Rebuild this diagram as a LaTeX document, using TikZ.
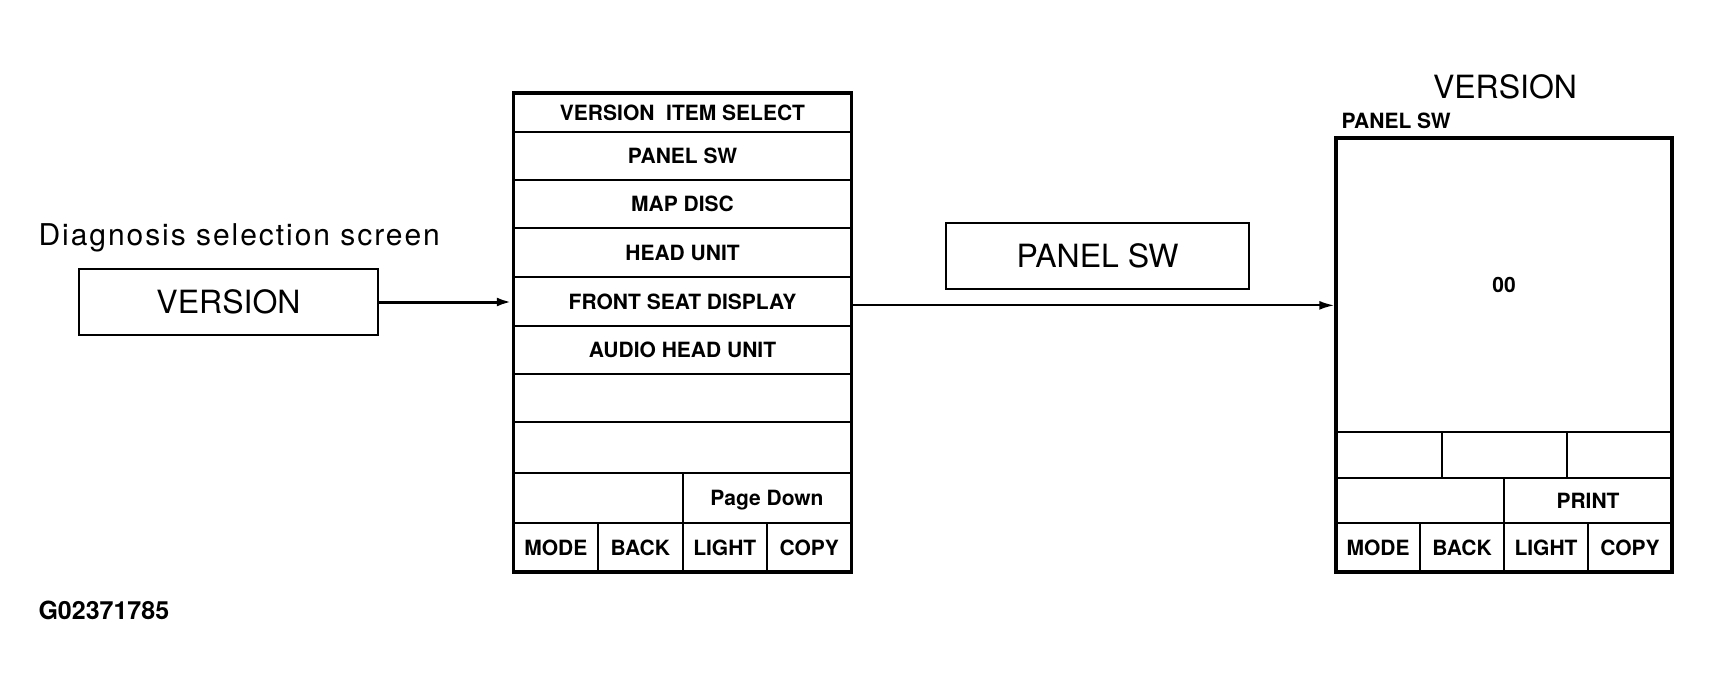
\documentclass[tikz,border=0pt]{standalone}
\usepackage{fontspec}
\setmainfont{TeX Gyre Heros}
\usetikzlibrary{arrows.meta}
\tikzset{
  cell/.style={draw, line width=2pt, inner sep=0pt, text depth=0pt, font=\fontsize{21}{21}\selectfont\bfseries},
  frame/.style={draw, line width=3.5pt, inner sep=0pt},
  labelbox/.style={draw, line width=2pt, inner sep=0pt, font=\fontsize{32}{32}\selectfont},
  pointer/.style={-{Latex[length=15pt,width=9pt]}},
}
\begin{document}
\begin{tikzpicture}[x=1pt,y=-1pt]
  \useasboundingbox (0,0) rectangle (1712,694);
  % start screen
  \node[anchor=base west, font=\fontsize{30}{30}\selectfont\addfontfeature{LetterSpace=6.5}] (diag) at (35,245) {Diagnosis selection screen};
  \node[labelbox, minimum width=299pt, minimum height=66pt] (version) at (228.5,302) {VERSION};
  \node[anchor=west, font=\fontsize{25}{25}\selectfont\bfseries] (code) at (35,610) {G02371785};
  % item select screen
  \node[cell, minimum width=338pt, minimum height=39pt] (title) at (682.5,112.5) {VERSION\ \ ITEM SELECT};
  \foreach \n/\y/\h/\t in {panel/155.75/47.5/PANEL SW, map/203.75/48.5/MAP DISC,
      head/252.5/49/HEAD UNIT, front/301.35/48.7/FRONT SEAT DISPLAY,
      audio/349.85/48.3/AUDIO HEAD UNIT, blanka/398.15/48.3/, blankb/447.8/51/}
    \node[cell, minimum width=338pt, minimum height=\h pt] (\n) at (682.5,\y) {\t};
  \node[cell, minimum width=169pt, minimum height=49.4pt] (pageleft) at (598,498) {};
  \node[cell, minimum width=169pt, minimum height=49.4pt] (pagedown) at (767,498) {Page Down};
  \foreach \n/\x/\t in {menumode/555.75/MODE, menuback/640.25/BACK,
      menulight/724.75/LIGHT, menucopy/809.25/COPY}
    \node[cell, minimum width=84.5pt, minimum height=49.3pt] (\n) at (\x,547.35) {\t};
  \node[frame, minimum width=338pt, minimum height=479pt] (menu) at (682.5,332.5) {};
  % chosen item
  \node[labelbox, minimum width=303pt, minimum height=66pt] (choice) at (1097.5,255.7) {PANEL SW};
  % result screen
  \node[font=\fontsize{32}{32}\selectfont] (showtitle) at (1505,86.7) {VERSION};
  \node[anchor=west, font=\fontsize{21}{21}\selectfont\bfseries] (showname) at (1338,120.7) {PANEL SW};
  \node[cell, minimum width=336pt, minimum height=294pt] (readout) at (1504,285) {00};
  \foreach \n/\x/\w in {slota/1388.85/105.7, slotb/1504.2/125, slotc/1619.35/105.3}
    \node[cell, minimum width=\w pt, minimum height=46.3pt] (\n) at (\x,455.15) {};
  \node[cell, minimum width=168pt, minimum height=45pt] (printleft) at (1420,500.8) {};
  \node[cell, minimum width=168pt, minimum height=45pt] (print) at (1588,500.8) {PRINT};
  \foreach \n/\x/\t in {showmode/1378/MODE, showback/1462/BACK,
      showlight/1546/LIGHT, showcopy/1630/COPY}
    \node[cell, minimum width=84pt, minimum height=48.7pt] (\n) at (\x,547.65) {\t};
  \node[frame, minimum width=336pt, minimum height=434pt] (show) at (1504,355) {};
  % connectors
  \draw[pointer, line width=3pt] (version.east) -- (version.east -| menu.west);
  \draw[pointer, line width=2pt] ([yshift=-4pt]front.east) -- ([yshift=-4pt]front.east -| show.west);
\end{tikzpicture}
\end{document}
